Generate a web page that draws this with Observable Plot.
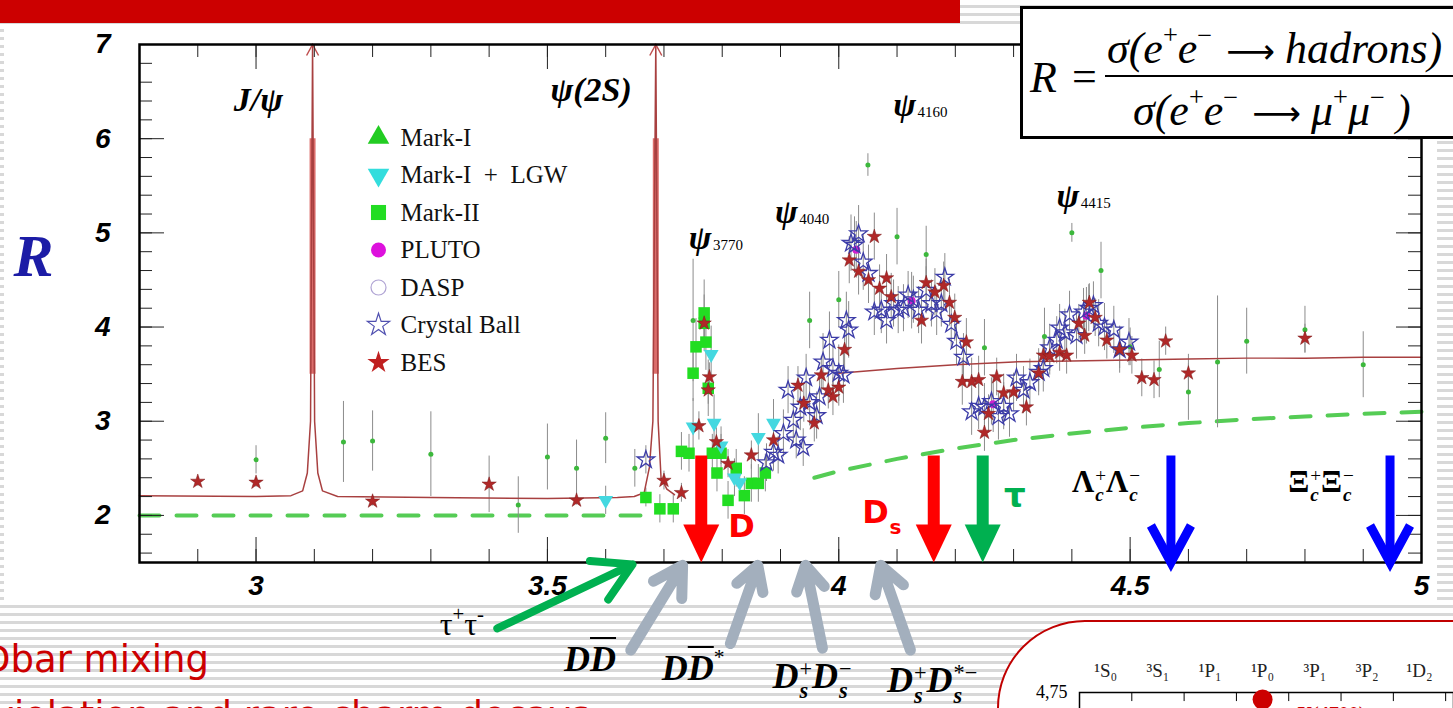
<!DOCTYPE html>
<html><head><meta charset="utf-8">
<script src="https://cdn.jsdelivr.net/npm/d3@7"></script>
<script src="https://cdn.jsdelivr.net/npm/@observablehq/plot@0.6"></script>
<style>
html,body{margin:0;padding:0;}
body{width:1453px;height:708px;overflow:hidden;position:relative;
 background:repeating-linear-gradient(to bottom,#ffffff 0px,#ffffff 5px,#d8d8d8 5px,#d8d8d8 8px);}
#banner{position:absolute;left:0;top:0;width:960px;height:23px;background:#cc0000;}
#sheet{position:absolute;left:4px;top:27px;width:1433px;height:575px;background:#fff;}
#chart{position:absolute;left:0;top:0;}
.ann{position:absolute;white-space:nowrap;line-height:1;transform:translate(-50%,-50%);}
.bi{font-family:"Liberation Serif",serif;font-weight:bold;font-style:italic;font-size:36px;color:#000;}
.ol{text-decoration:overline;text-decoration-thickness:2px;}
.sup{font-size:0.6em;position:relative;top:-0.75em;font-style:normal;font-weight:normal;}
.ss{display:inline-block;vertical-align:-0.45em;font-size:0.62em;line-height:1;text-align:left;margin-left:1px;}
.ss>span{display:block;}
.ss .up{font-style:normal;font-weight:normal;}
.greek{font-family:"Liberation Serif",serif;font-weight:bold;font-size:31px;color:#000;}
.tau{font-family:"Liberation Serif",serif;font-size:32px;color:#000;}
.tau .sup{font-size:0.65em;top:-0.7em;}
#formula{position:absolute;left:1020px;top:6px;width:460px;height:127px;border:3px solid #000;background:#fff;}
#formula div{position:absolute;white-space:nowrap;line-height:1;font-family:"Liberation Serif",serif;font-size:44px;font-style:italic;}
#formula .fsup{font-size:0.6em;position:relative;top:-0.72em;font-style:normal;}
#formula .arr{font-style:normal;font-family:"DejaVu Sans",sans-serif;font-size:34px;margin:0 10px 0 14px;}
#fbar{height:2px;background:#000;}
#insetBox{position:absolute;left:997px;top:620px;width:600px;height:400px;border:2px solid #c00000;border-radius:88px;background:#fff;}
#inset{position:absolute;left:997px;top:620px;}
.note{position:absolute;white-space:nowrap;line-height:1;font-family:"DejaVu Sans",sans-serif;font-size:37px;color:#cc0000;}
</style></head><body>
<div id="banner"></div>
<div id="sheet"></div>
<div id="chart"></div>
<div id="formula">
  <div style="left:7px;top:47px;">R</div>
  <div style="left:49px;top:46px;font-style:normal;">=</div>
  <div id="fbar" style="left:82px;top:66px;width:380px;"></div>
  <div style="left:84px;top:18px;">σ(e<span class="fsup">+</span>e<span class="fsup">−</span><span class="arr">⟶</span>hadrons)</div>
  <div style="left:110px;top:80px;">σ(e<span class="fsup">+</span>e<span class="fsup">−</span><span class="arr">⟶</span>μ<span class="fsup">+</span>μ<span class="fsup">−</span> )</div>
</div>
<div class="note" style="left:-18px;top:641px;">Dbar mixing</div>
<div class="note" style="left:-8px;top:697px;">violation and rare charm decays</div>
<div id="insetBox"></div>
<div id="inset"></div>
<script>
// ---------------- data ----------------
// [E (GeV), R, error]
const markI = [
 [3.00,2.59,0.15],[3.15,2.78,0.43],[3.20,2.79,0.32],[3.30,2.65,0.45],[3.40,2.33,0.30],
 [3.45,2.11,0.30],[3.50,2.62,0.35],[3.55,2.50,0.30],[3.60,2.82,0.27],[3.65,2.50,0.20],
 [3.75,4.07,0.65],[3.95,4.07,0.30],[4.00,4.29,0.30],[4.05,5.72,0.12],[4.10,4.96,0.30],
 [4.15,4.77,0.30],[4.25,3.78,0.30],[4.353,3.90,0.30],[4.40,5.00,0.10],[4.45,4.60,0.30],
 [4.50,3.79,0.20],[4.55,3.55,0.30],[4.60,3.31,0.30],[4.65,3.63,0.70],[4.70,3.85,0.35],
 [4.80,3.97,0.25],[4.90,3.60,0.35]
];
const markILGW = [
 [3.60,2.16,0.15],[3.75,2.94,0.30],[3.781,3.71,0.30],[3.786,2.98,0.30],[3.798,2.74,0.20],
 [3.821,2.40,0.20],[3.83,2.35,0.20],[3.862,2.83,0.25],[3.888,2.98,0.25]
];
const markII = [
 [3.669,2.19,0.10],[3.693,2.07,0.15],[3.716,2.07,0.15],[3.73,2.68,0.20],[3.743,2.66,0.20],
 [3.75,3.51,0.30],[3.755,3.79,0.30],[3.769,4.15,0.35],[3.769,4.04,0.30],[3.772,3.84,0.30],
 [3.776,3.35,0.30],[3.783,2.66,0.20],[3.791,2.45,0.20],[3.798,2.66,0.20],[3.81,2.16,0.20],
 [3.824,2.50,0.20],[3.838,2.21,0.20],[3.85,2.34,0.20],[3.862,2.34,0.20],[3.874,2.45,0.20]
];
const pluto = [
 [4.030,4.82,0.3],[4.125,4.28,0.3],[4.265,3.18,0.3],[4.425,4.12,0.3]
];
const dasp = [];
const crystalBall = [
 [3.669,2.59,0.15],[3.876,2.56,0.2],[3.888,2.67,0.2],[3.896,2.64,0.2],[3.905,2.87,0.25],[3.913,3.33,0.25],
 [3.922,3.01,0.25],[3.927,2.80,0.2],[3.934,3.15,0.25],[3.939,2.72,0.2],[3.944,3.46,0.25],[3.950,3.20,0.25],
 [3.962,3.06,0.25],[3.967,3.26,0.25],[3.973,3.63,0.3],[3.984,3.86,0.3],[3.990,3.56,0.3],[4.000,3.51,0.3],
 [4.008,3.49,0.3],[4.013,4.07,0.3],[4.017,3.97,0.3],[4.021,4.89,0.3],[4.027,4.87,0.3],[4.034,4.99,0.3],
 [4.042,4.69,0.3],[4.051,4.57,0.3],[4.061,4.16,0.25],[4.073,4.18,0.25],[4.082,4.07,0.25],[4.094,4.25,0.25],
 [4.102,4.18,0.25],[4.111,4.20,0.25],[4.119,4.34,0.25],[4.128,4.29,0.25],[4.137,4.18,0.25],[4.150,4.39,0.25],
 [4.159,4.25,0.25],[4.168,4.16,0.25],[4.176,4.25,0.25],[4.182,4.53,0.25],[4.193,4.03,0.25],[4.202,3.85,0.25],
 [4.214,3.68,0.25],[4.228,3.10,0.25],[4.240,3.16,0.25],[4.250,3.15,0.25],[4.262,3.21,0.25],[4.274,3.05,0.25],
 [4.283,3.16,0.25],[4.293,3.08,0.25],[4.305,3.46,0.25],[4.317,3.33,0.25],[4.328,3.41,0.25],[4.343,3.52,0.25],
 [4.351,3.56,0.25],[4.362,3.78,0.25],[4.374,3.86,0.25],[4.379,3.99,0.25],[4.388,3.94,0.25],[4.396,4.13,0.25],
 [4.408,3.91,0.25],[4.420,4.16,0.25],[4.429,4.20,0.25],[4.437,4.23,0.25],[4.446,4.04,0.25],[4.456,4.00,0.25],
 [4.472,3.97,0.25],[4.482,3.76,0.25],[4.498,3.84,0.25]
];
const bes = [
 [2.90,2.36,0.05],[3.00,2.35,0.05],[3.20,2.15,0.05],[3.40,2.33,0.05],[3.55,2.16,0.05],
 [3.70,2.37,0.10],[3.73,2.24,0.10],[3.76,2.95,0.15],[3.769,4.04,0.15],[3.776,3.33,0.15],
 [3.778,3.47,0.15],[3.79,2.78,0.15],[3.81,2.55,0.15],[3.85,2.64,0.15],[3.888,2.80,0.15],
 [3.93,3.38,0.2],[3.94,3.19,0.2],[3.958,2.98,0.2],[3.97,3.49,0.2],[3.982,3.33,0.2],
 [3.99,3.26,0.2],[4.00,3.36,0.2],[4.01,3.76,0.2],[4.018,4.71,0.25],[4.034,4.59,0.25],
 [4.051,4.50,0.25],[4.061,4.96,0.25],[4.07,4.41,0.25],[4.082,4.52,0.25],[4.09,4.32,0.25],
 [4.142,4.07,0.25],[4.15,4.47,0.25],[4.165,4.37,0.25],[4.18,4.44,0.25],[4.19,4.26,0.25],
 [4.199,4.10,0.25],[4.219,3.84,0.25],[4.212,3.42,0.25],[4.228,3.42,0.25],[4.24,3.44,0.25],
 [4.25,2.88,0.2],[4.257,3.08,0.2],[4.271,3.47,0.2],[4.283,3.30,0.2],[4.30,3.31,0.2],
 [4.322,3.15,0.2],[4.343,3.51,0.2],[4.351,3.70,0.2],[4.362,3.69,0.2],[4.379,3.73,0.2],
 [4.391,3.70,0.2],[4.412,4.04,0.2],[4.422,3.91,0.2],[4.43,4.26,0.2],[4.44,4.10,0.2],
 [4.46,3.86,0.2],[4.482,3.76,0.2],[4.503,3.70,0.2],[4.52,3.46,0.2],[4.541,3.44,0.2],
 [4.561,3.85,0.15],[4.60,3.51,0.2],[4.80,3.88,0.15]
];
// theory curve with the two narrow resonances  [E, R]
const fitLow = [
 [2.80,2.21],[3.00,2.20],[3.06,2.21],[3.08,2.26],[3.088,2.45],[3.0935,3.0],[3.097,7.0],
 [3.1005,3.0],[3.106,2.45],[3.114,2.26],[3.14,2.20],[3.30,2.19],[3.50,2.18],[3.62,2.19],
 [3.649,2.20],[3.666,2.24],[3.675,2.51],[3.681,3.0],[3.686,7.0],[3.690,3.0],[3.695,2.40],
 [3.705,2.28],[3.718,2.22]
];
const fitHigh = [
 [4.00,3.51],[4.10,3.56],[4.20,3.60],[4.30,3.63],[4.40,3.64],[4.50,3.65],[4.60,3.66],
 [4.70,3.67],[4.80,3.67],[4.90,3.68],[5.00,3.68]
];
// green dashed (parton model) curve [E, R]
const qpmLow = [[2.80,2.00],[3.66,2.00]];
const qpmHigh = [
 [3.958,2.40],[4.00,2.47],[4.10,2.60],[4.20,2.71],[4.30,2.80],[4.40,2.87],[4.50,2.93],
 [4.60,2.98],[4.70,3.02],[4.80,3.05],[4.90,3.08],[5.00,3.10]
];
const peaks = [3.097, 3.686];                 // J/psi, psi(2S)
const resonanceLabels = [
 {E:3.762,R:4.94,sub:"3770"},{E:3.910,R:5.22,sub:"4040"},
 {E:4.113,R:6.36,sub:"4160"},{E:4.393,R:5.39,sub:"4415"}
];
const narrowLabels = [{E:3.004,R:6.41,t:"J/ψ"},{E:3.575,R:6.52,t:"ψ(2S)"}];
const legendNames = ["Mark-I","Mark-I\u2002+\u2002LGW","Mark-II","PLUTO","DASP","Crystal Ball","BES"];
const redThresholds = [3.764, 4.163];
const greenThresholds = [4.247];
const blueThresholds = [4.570, 4.946];
const arrowTopR = 2.63;
const grayArrows = [  // open-charm thresholds, tail -> tip
 {x1:3.643,y1:0.57,x2:3.732,y2:1.47},{x1:3.814,y1:0.64,x2:3.861,y2:1.47},
 {x1:3.972,y1:0.59,x2:3.943,y2:1.47},{x1:4.123,y1:0.57,x2:4.072,y2:1.47}
];
const tauArrow = [{x1:3.414,y1:0.80,x2:3.646,y2:1.48}];
const xTicks = [3, 3.5, 4, 4.5, 5];
const yTicks = [2, 3, 4, 5, 6, 7];
const xMinorTicks = d3.range(29, 50).map(d => d / 10);
const yMinorTicks = d3.range(8, 35).map(d => d / 5);

// ---------------- chart ----------------
const W = 1453, H = 708, mT = 44, mR = 32, mB = 146, mL = 139;
const xDom = [2.8, 5.0], yDom = [1.5, 7.0];
const pxE = (W - mL - mR) / (xDom[1] - xDom[0]);
const pxR = (H - mT - mB) / (yDom[1] - yDom[0]);
const E = d => d[0], Rv = d => d[1];
const lo = d => d[1] - d[2], hi = d => d[1] + d[2];
const allPoints = [...markI, ...markILGW, ...markII, ...pluto, ...crystalBall, ...bes];

const fatHead = {draw(c){ c.moveTo(0,0); c.lineTo(-18,-38); c.lineTo(18,-38); c.closePath(); }};
const openHead = {draw(c){ c.moveTo(-20,-37); c.lineTo(0,0); c.lineTo(20,-37); }};
const capHead = {draw(c){ c.moveTo(-6,11); c.lineTo(0,0); c.lineTo(6,11); }};

const legX = xDom[0] + (378 - mL) / pxE, legTX = xDom[0] + (400 - mL) / pxE;
const legY = i => yDom[1] - (137 - mT) / pxR - i * 37.5 / pxR;
const legendStyles = [
 {symbol:"triangle", fill:"#22cc22", stroke:"none", r:8},
 {symbol:"triangle", fill:"#33dddd", stroke:"none", r:8, rotate:180},
 {symbol:"square", fill:"#22dd22", stroke:"none", r:8.5},
 {symbol:"circle", fill:"#dd11dd", stroke:"none", r:7.5},
 {symbol:"circle", fill:"none", stroke:"#b0a4d4", r:7.5},
 {symbol:"star", fill:"none", stroke:"#5050b0", r:7},
 {symbol:"star", fill:"#c02020", stroke:"none", r:7}
];
const legendMarks = legendStyles.map((s, i) =>
  Plot.dot([legendNames[i]], {x: legX, y: legY(i), symbol: s.symbol, fill: s.fill, stroke: s.stroke, r: s.r, rotate: s.rotate || 0, strokeWidth: 1.2}));

const txtSans = {fontFamily: "Liberation Sans", fontWeight: "bold", fontStyle: "italic", fontSize: 28};

const plot = Plot.plot({
  width: W, height: H, marginTop: mT, marginRight: mR, marginBottom: mB, marginLeft: mL,
  x: {domain: xDom}, y: {domain: yDom},
  style: {background: "transparent", overflow: "visible"},
  marks: [
    Plot.line(qpmLow, {x: E, y: Rv, stroke: "#55cc55", strokeWidth: 4, strokeDasharray: "20,17"}),
    Plot.line(qpmHigh, {x: E, y: Rv, stroke: "#55cc55", strokeWidth: 4, strokeDasharray: "20,17"}),
    Plot.ruleX(allPoints, {x: E, y1: lo, y2: hi, stroke: "#8c8c8c", strokeWidth: 1}),
    Plot.ruleX(peaks, {x: d => d, y1: 3.5, y2: 6.0, stroke: "#dc6e6c", strokeWidth: 6}),
    Plot.line(fitLow, {x: E, y: Rv, stroke: "#a84040", strokeWidth: 1.5}),
    Plot.line(fitHigh, {x: E, y: Rv, stroke: "#a84040", strokeWidth: 1.5}),
    Plot.dot(peaks, {x: d => d, y: yDom[1], symbol: capHead, fill: "none", stroke: "#c05050", strokeWidth: 1.5}),
    Plot.dot(markII, {x: E, y: Rv, symbol: "square", r: 6.5, fill: "#22dd22"}),
    Plot.dot(markILGW, {x: E, y: Rv, symbol: "triangle", rotate: 180, r: 5.5, fill: "#44d8e0"}),
    Plot.dot(markI, {x: E, y: Rv, r: 2.5, fill: "#3cb83c"}),
    Plot.dot(pluto, {x: E, y: Rv, r: 4, fill: "#d020d0"}),
    Plot.dot(dasp, {x: E, y: Rv, r: 5, fill: "none", stroke: "#b0a4d4"}),
    Plot.dot(crystalBall, {x: E, y: Rv, symbol: "star", r: 5.5, fill: "none", stroke: "#3c3ca8", strokeWidth: 1.3}),
    Plot.dot(bes, {x: E, y: Rv, symbol: "star", r: 4.5, fill: "#b02828", stroke: "#7a1a1a", strokeWidth: 0.5}),
    Plot.ruleX(xMinorTicks, {x: d => d, y1: yDom[0], y2: yDom[0] + 13 / pxR, stroke: "#222"}),
    Plot.ruleX(xMinorTicks, {x: d => d, y1: yDom[1], y2: yDom[1] - 13 / pxR, stroke: "#222"}),
    Plot.ruleX(xTicks, {x: d => d, y1: yDom[0], y2: yDom[0] + 25 / pxR, stroke: "#222"}),
    Plot.ruleX(xTicks, {x: d => d, y1: yDom[1], y2: yDom[1] - 25 / pxR, stroke: "#222"}),
    Plot.ruleY(yMinorTicks, {y: d => d, x1: xDom[0], x2: xDom[0] + 13 / pxE, stroke: "#222"}),
    Plot.ruleY(yMinorTicks, {y: d => d, x1: xDom[1], x2: xDom[1] - 13 / pxE, stroke: "#222"}),
    Plot.ruleY(yTicks, {y: d => d, x1: xDom[0], x2: xDom[0] + 25 / pxE, stroke: "#222"}),
    Plot.ruleY(yTicks, {y: d => d, x1: xDom[1], x2: xDom[1] - 25 / pxE, stroke: "#222"}),
    Plot.frame({stroke: "#000", strokeWidth: 2.5}),
    Plot.axisX({ticks: xTicks, tickSize: 0, tickPadding: 13, tickFormat: d => String(d), label: null, ...txtSans}),
    Plot.axisY({ticks: yTicks, tickSize: 0, tickPadding: 29, tickFormat: d => String(d), label: null, ...txtSans}),
    Plot.text(["R"], {x: xDom[0], y: 4.75, dx: -106, text: d => d, fill: "#1c1ca6", fontFamily: "Liberation Serif", fontWeight: "bold", fontStyle: "italic", fontSize: 60}),
    ...legendMarks,
    Plot.text(legendNames, {x: legTX, y: (d, i) => legY(i), text: d => d, textAnchor: "start", fontFamily: "Liberation Serif", fontSize: 25, fill: "#111"}),
    Plot.text(narrowLabels, {x: "E", y: "R", text: "t", fontFamily: "Liberation Serif", fontWeight: "bold", fontStyle: "italic", fontSize: 34}),
    Plot.text(resonanceLabels, {x: "E", y: "R", text: () => "ψ", fontFamily: "Liberation Serif", fontWeight: "bold", fontStyle: "italic", fontSize: 34}),
    Plot.text(resonanceLabels, {x: "E", y: "R", text: "sub", dx: 13, dy: 7, textAnchor: "start", fontFamily: "Liberation Serif", fontSize: 15}),
    Plot.ruleX(redThresholds, {x: d => d, y1: arrowTopR, y2: yDom[0] + 36 / pxR, stroke: "#ff0000", strokeWidth: 12}),
    Plot.dot(redThresholds, {x: d => d, y: yDom[0], symbol: fatHead, fill: "#ff0000", stroke: "none"}),
    Plot.ruleX(greenThresholds, {x: d => d, y1: arrowTopR, y2: yDom[0] + 36 / pxR, stroke: "#00b050", strokeWidth: 12}),
    Plot.dot(greenThresholds, {x: d => d, y: yDom[0], symbol: fatHead, fill: "#00b050", stroke: "none"}),
    Plot.ruleX(blueThresholds, {x: d => d, y1: arrowTopR, y2: yDom[0] + 4 / pxR, stroke: "#0000ff", strokeWidth: 9}),
    Plot.dot(blueThresholds, {x: d => d, y: yDom[0], symbol: openHead, fill: "none", stroke: "#0000ff", strokeWidth: 9, strokeLinejoin: "miter"}),
    Plot.text(["D"], {x: 3.833, y: 1.88, text: d => d, fill: "#ff0000", fontFamily: "DejaVu Sans", fontWeight: "bold", fontSize: 32}),
    Plot.text(["D"], {x: 4.063, y: 2.03, text: d => d, fill: "#ff0000", fontFamily: "DejaVu Sans", fontWeight: "bold", fontSize: 32}),
    Plot.text(["s"], {x: 4.063, y: 2.03, dx: 20, dy: 15, text: d => d, fill: "#ff0000", fontFamily: "DejaVu Sans", fontWeight: "bold", fontSize: 20}),
    Plot.text(["τ"], {x: 4.302, y: 2.21, text: d => d, fill: "#00b050", fontFamily: "DejaVu Sans", fontWeight: "bold", fontSize: 34}),
    Plot.arrow(grayArrows, {x1: "x1", y1: "y1", x2: "x2", y2: "y2", stroke: "#a3afbd", strokeWidth: 11, headLength: 8}),
    Plot.arrow(tauArrow, {x1: "x1", y1: "y1", x2: "x2", y2: "y2", stroke: "#00b050", strokeWidth: 8, headLength: 8})
  ]
});
document.getElementById("chart").append(plot);

const sx = plot.scale("x"), sy = plot.scale("y");
const st = (a, b) => `<span class="ss"><span class="up">${a}</span><span>${b}</span></span>`;
const mathLabels = [
 {E:3.574, R:0.47, cls:"bi", html:"D<span class='ol'>D</span>"},
 {E:3.751, R:0.37, cls:"bi", html:"D<span class='ol'>D</span><span class='sup'>*</span>"},
 {E:3.955, R:0.25, cls:"bi", html:"D" + st("+","s") + "D" + st("−","s")},
 {E:4.161, R:0.20, cls:"bi", html:"D" + st("+","s") + "D" + st("*−","s")},
 {E:3.354, R:0.84, cls:"tau", html:"τ<span class='sup'>+</span>τ<span class='sup'>-</span>"},
 {E:4.4595, R:2.32, cls:"greek", html:"Λ" + st("+","<i>c</i>") + "Λ" + st("−","<i>c</i>")},
 {E:4.8285, R:2.32, cls:"greek", html:"Ξ" + st("+","<i>c</i>") + "Ξ" + st("−","<i>c</i>")}
];
for (const m of mathLabels) {
  const d = document.createElement("div");
  d.className = "ann " + m.cls;
  d.innerHTML = m.html;
  d.style.left = sx.apply(m.E) + "px";
  d.style.top = sy.apply(m.R) + "px";
  document.body.appendChild(d);
}

// ---------------- inset (charmonium-like states) ----------------
const insetStates = ["¹S₀","³S₁","¹P₁","¹P₀","³P₁","³P₂","¹D₂"];
const insetStateMass = [{state: 3, mass: 4.719, name: "Y(4700)"}];
const inset = Plot.plot({
  width: 456, height: 140, marginLeft: 82, marginRight: 0, marginTop: 72, marginBottom: 0,
  x: {domain: [0, 7.15]}, y: {domain: [4.45, 4.75]},
  style: {background: "transparent", overflow: "visible"},
  marks: [
    Plot.frame({stroke: "#000", strokeWidth: 1.5}),
    Plot.ruleX(d3.range(1, 8), {x: d => d, y1: 4.75, y2: 4.75 - 0.04, stroke: "#000"}),
    Plot.text(insetStates, {x: (d, i) => i + 0.5, y: 4.75, dy: -22, text: d => d, fontFamily: "Liberation Serif", fontSize: 19, fill: "#222"}),
    Plot.axisY({ticks: [4.75], tickFormat: d => String(d).replace(".", ","), tickSize: 0, tickPadding: 12, label: null, fontFamily: "Liberation Serif", fontSize: 18}),
    Plot.dot(insetStateMass, {x: d => d.state + 0.5, y: "mass", r: 10, fill: "#cc0000"}),
    Plot.text(insetStateMass, {x: d => d.state + 0.5, y: "mass", dx: 35, dy: 15, text: "name", textAnchor: "start", fill: "#cc0000", fontWeight: "bold", fontFamily: "Liberation Serif", fontSize: 20})
  ]
});
document.getElementById("inset").append(inset);
</script>
</body></html>
